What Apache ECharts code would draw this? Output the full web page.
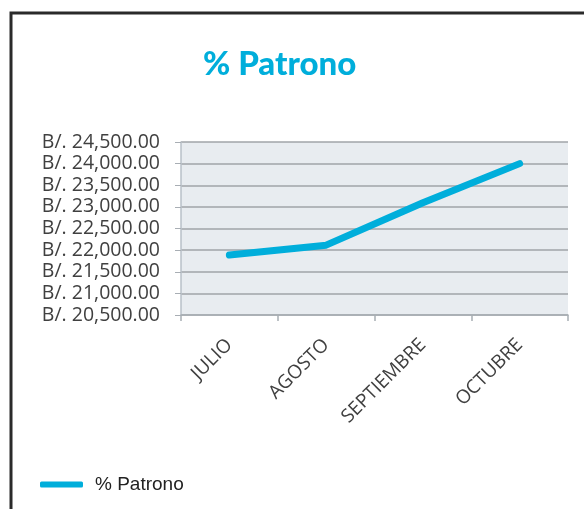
<!DOCTYPE html>
<html>
<head>
<meta charset="utf-8">
<script src="https://cdn.jsdelivr.net/npm/echarts@6/dist/echarts.min.js"></script>
<style>
  html, body { margin: 0; padding: 0; background: #fff; }
  #chart { width: 584px; height: 509px; }
</style>
</head>
<body>
<div id="chart"></div>
<script>
// datos
const meses = ['JULIO', 'AGOSTO', 'SEPTIEMBRE', 'OCTUBRE']
const patrono = [21885, 22115, 23095, 24000]
const yMin = 20500
const yMax = 24500
const yPaso = 500

const azul = '#00AEDB'

let myChart = echarts.init(document.getElementById('chart'))
myChart.setOption({
  animation: false,
  title: {
    text: '% Patrono',
    left: 198,
    top: 43,
    textStyle: {
      color: azul,
      fontFamily: 'Lato',
      fontWeight: 900,
      fontSize: 33
    }
  },
  legend: {
    left: 35,
    top: 470,
    icon: 'roundRect',
    itemWidth: 43,
    itemHeight: 6,
    data: ['% Patrono'],
    textStyle: {
      color: '#222',
      fontFamily: 'Liberation Sans',
      fontSize: 19,
      padding: [0, 0, 0, 7]
    }
  },
  graphic: [
    {
      // marco negro del recuadro
      type: 'rect',
      shape: { x: 11, y: 13, width: 640, height: 560 },
      style: { fill: 'none', stroke: '#2a2a2a', lineWidth: 3 },
      silent: true
    }
  ],
  grid: {
    left: 181,
    right: 16,
    top: 142,
    bottom: 194,
    show: true,
    backgroundColor: '#E8ECF0',
    borderWidth: 0
  },
  xAxis: {
    type: 'category',
    boundaryGap: true,
    data: meses,
    axisLine: { show: true, lineStyle: { color: '#A8AEB4', width: 1.5 } },
    axisTick: { show: true, length: 6, lineStyle: { color: '#A8AEB4', width: 1.5 } },
    axisLabel: {
      rotate: 45,
      margin: 27,
      color: '#404040',
      fontFamily: 'Open Sans',
      fontSize: 19
    }
  },
  yAxis: {
    type: 'value',
    min: yMin,
    max: yMax,
    interval: yPaso,
    axisLine: { show: true, lineStyle: { color: '#B8C0C8', width: 1.5 } },
    axisTick: { show: true, length: 6, lineStyle: { color: '#A8AEB4' } },
    splitLine: { lineStyle: { color: '#A0A4A8', width: 1.5 } },
    axisLabel: {
      margin: 21,
      color: '#404040',
      fontFamily: 'Open Sans',
      fontSize: 19.5,
      formatter: function (v) {
        return 'B/. ' + v.toLocaleString('en-US', { minimumFractionDigits: 2, maximumFractionDigits: 2 })
      }
    }
  },
  series: [
    {
      name: '% Patrono',
      type: 'line',
      data: patrono,
      showSymbol: false,
      symbol: 'none',
      color: azul,
      lineStyle: { color: azul, width: 7, cap: 'round', join: 'round' }
    }
  ]
})
</script>
</body>
</html>
